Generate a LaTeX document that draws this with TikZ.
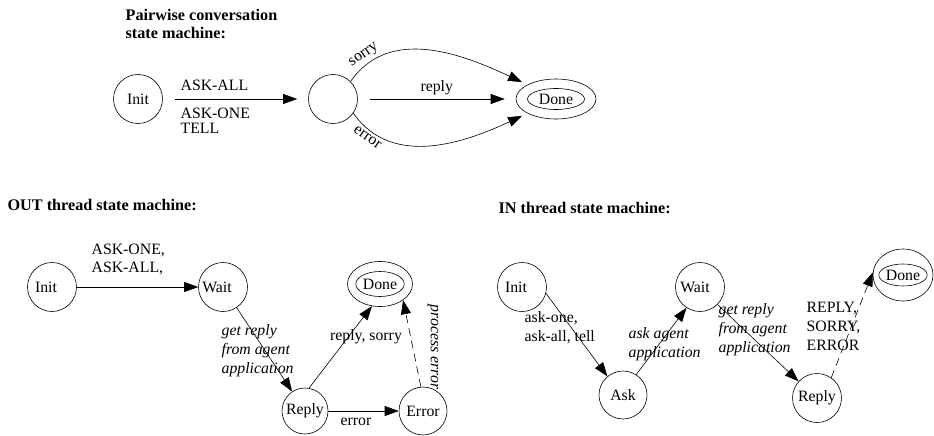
\documentclass[tikz,border=0pt]{standalone}
\usepackage{fontspec}
\setmainfont{Liberation Serif}
\usetikzlibrary{positioning, arrows.meta, shapes.geometric}

\begin{document}
\begin{tikzpicture}[
    x=1pt, y=-1pt,
    line width=0.6pt,
    every node/.style={font=\fontsize{15.8}{19}\selectfont},
    state/.style={circle, draw, minimum size=49pt, inner sep=0pt},
    outer/.style={ellipse, draw, inner sep=0pt},
    inner/.style={ellipse, draw, inner sep=0pt},
    title/.style={font=\fontsize{16.2}{18}\selectfont\bfseries, align=left, anchor=west},
    lbl/.style={align=left, anchor=west},
    itlbl/.style={align=left, anchor=west, font=\fontsize{15.8}{19}\selectfont\itshape},
    arrow/.style={-{Triangle[length=14pt, width=10pt]}},
    dashedarrow/.style={dash pattern=on 8pt off 5pt, -{Triangle[length=14pt, width=10pt]}}
]
\useasboundingbox (0,0) rectangle (934,436);

% Pairwise conversation
\node[title] (ptitle) at (122,24) {Pairwise conversation\\state machine:};

\node[state] (pinit) at (138,99) {Init};
\node[state] (pmid) at (333,99) {};
\node[outer, minimum width=80pt, minimum height=40pt] (pdone) at (556,99) {};
\node[inner, minimum width=57pt, minimum height=21pt] (pdonein) at (pdone) {Done};

\draw[arrow, shorten <=12pt, shorten >=11pt] (pinit) -- (pmid);
\node[lbl] (paskall) at (177,85) {ASK-ALL};
\node[lbl, font=\fontsize{15.8}{15}\selectfont] (paskone) at (177,120.5) {ASK-ONE\\TELL};

\draw[arrow, shorten <=12pt, shorten >=11pt] (pmid) -- node[above] {reply} (pdone);
\draw[arrow, shorten >=6pt] (pmid.45) to[out=55, in=155] node[pos=0.14, sloped, above, inner sep=3pt] {sorry} (pdone.north west);
\draw[arrow, shorten >=6pt] (pmid.-35) to[out=-55, in=205] node[pos=0.14, sloped, below, inner sep=3pt] {error} (pdone.south west);

% OUT thread
\node[title] (otitle) at (4,205) {OUT thread state machine:};

\node[state] (oinit) at (52,287) {\hspace*{-12pt}Init};
\node[state] (owait) at (223,287) {\hspace*{-12pt}Wait};
\node[outer, minimum width=65pt, minimum height=45pt] (odone) at (380,284) {};
\node[inner, minimum width=45pt, minimum height=25pt] (odonein) at (odone) {Done};
\node[state, minimum size=46pt] (oreply) at (305,411) {Reply};
\node[state, minimum size=48pt] (oerror) at (423,411) {Error};

\draw[arrow] (oinit) -- (owait);
\node[lbl, font=\fontsize{15.8}{18}\selectfont] (oask) at (88,259) {ASK-ONE,\\ASK-ALL,};

\draw[arrow] (owait) -- (oreply);
\node[itlbl] (oget) at (218,351) {get reply\\from agent\\application};

\draw[arrow] (oreply.80) -- (odone.250);
\node (orepsor) at (366,337) {reply, sorry};

\draw[arrow] (oreply) -- (oerror);
\node (oerr) at (356,422) {error};

\draw[dashedarrow] (oerror.95) -- (odone.-35);
\node[rotate=-90, font=\fontsize{15.8}{19}\selectfont\itshape] (oproc) at (433,347) {process error};

% IN thread
\node[title] (ititle) at (495,208) {IN thread state machine:};

\node[state] (iinit) at (522,287) {\hspace*{-12pt}Init};
\node[state, minimum size=48pt] (iask) at (623,395) {Ask};
\node[state] (iwait) at (700,287) {\hspace*{-10pt}Wait};
\node[state] (ireply) at (817,398) {Reply};
\node[outer, minimum width=60pt, minimum height=52pt] (idone) at (903,275) {};
\node[inner, minimum width=48pt, minimum height=22pt] (idonein) at (idone) {Done};

\draw[arrow] (iinit.-15) -- (iask.130);
\node[lbl] (iaskone) at (521,327.5) {ask-one,\\ask-all, tell};

\draw[arrow] (iask.57) -- (iwait.237);
\node[itlbl] (iagent) at (625,344.5) {ask agent\\application};

\draw[arrow] (iwait.-45) -- (ireply.138);
\node[itlbl] (iget) at (715,330) {get reply\\from agent\\application};

\draw[dashedarrow] (ireply.55) -- (idone.175);
\node[lbl] (ireplies) at (803,326) {REPLY,\\SORRY,\\ERROR};

\end{tikzpicture}
\end{document}
